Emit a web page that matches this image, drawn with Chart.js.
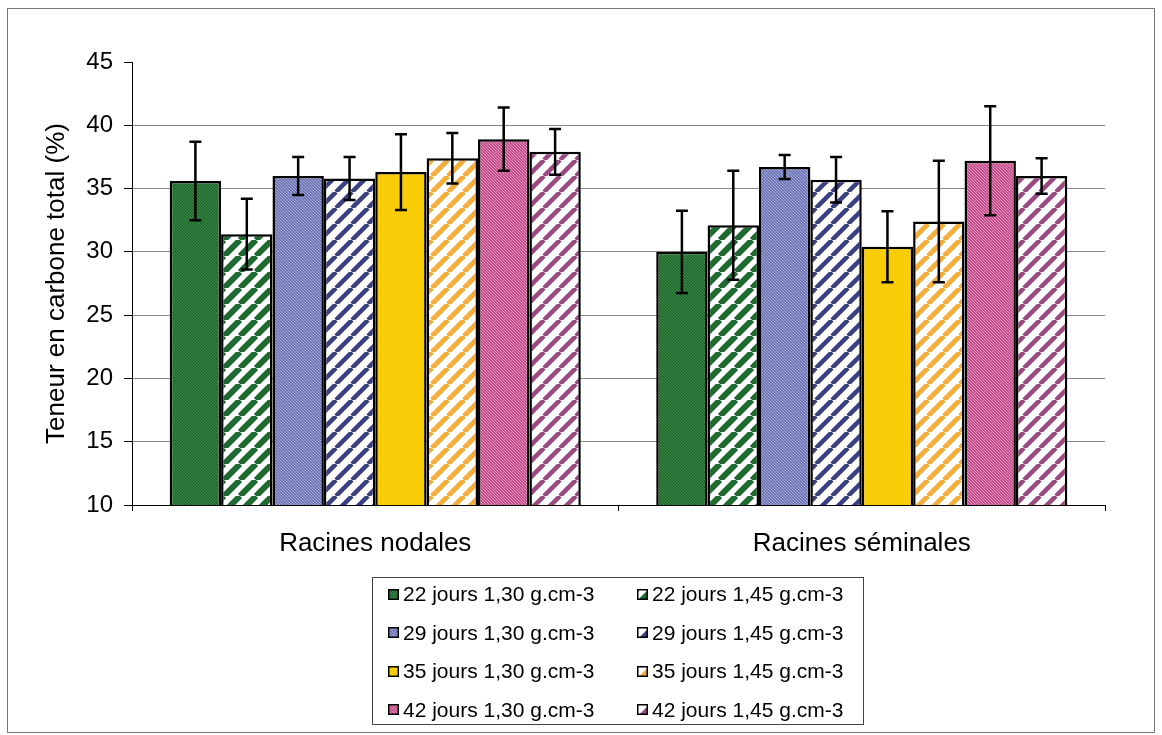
<!DOCTYPE html>
<html lang="fr">

<head>
    <meta charset="UTF-8">
    <title>Teneur en carbone total</title>
    <script src="https://cdn.jsdelivr.net/npm/chart.js"></script>
    <style>
        body { margin: 0; background: #fff; font-family: 'Liberation Sans', Arial, sans-serif; }
        #cadre { position: relative; width: 1162px; height: 735px; }
        #bord { position: absolute; left: 7px; top: 8px; width: 1148px; height: 725px; border: 1px solid #777; box-sizing: border-box; }
        #legende { position: absolute; left: 372px; top: 577px; width: 492px; height: 148px; border: 1px solid #444; box-sizing: border-box; background: #fff; }
        .item { position: absolute; height: 38px; display: flex; align-items: center; font-size: 21px; color: #000; white-space: nowrap; }
        .item canvas { margin-right: 4px; }
    </style>
</head>

<body>
    <div id="cadre">
        <div id="bord"></div>
        <canvas id="graficoBarras"></canvas>
        <div id="legende"></div>
    </div>
</body>

</html>
<script>
    // données
    const categories = ['Racines nodales', 'Racines séminales']
    const series = [
        '22 jours 1,30 g.cm-3', '22 jours 1,45 g.cm-3',
        '29 jours 1,30 g.cm-3', '29 jours 1,45 g.cm-3',
        '35 jours 1,30 g.cm-3', '35 jours 1,45 g.cm-3',
        '42 jours 1,30 g.cm-3', '42 jours 1,45 g.cm-3'
    ]
    const j22_130 = [35.6, 30.0]
    const j22_145 = [31.4, 32.1]
    const j29_130 = [36.0, 36.7]
    const j29_145 = [35.8, 35.7]
    const j35_130 = [36.3, 30.4]
    const j35_145 = [37.4, 32.4]
    const j42_130 = [38.9, 37.2]
    const j42_145 = [37.9, 36.0]
    // écarts-types
    const e22_130 = [3.1, 3.25]
    const e22_145 = [2.8, 4.3]
    const e29_130 = [1.5, 0.95]
    const e29_145 = [1.7, 1.8]
    const e35_130 = [3.0, 2.8]
    const e35_145 = [2.0, 4.8]
    const e42_130 = [2.5, 4.3]
    const e42_145 = [1.8, 1.4]
    const yTicks = [10, 15, 20, 25, 30, 35, 40, 45]

    const valeurs = [j22_130, j22_145, j29_130, j29_145, j35_130, j35_145, j42_130, j42_145]
    const ecarts = [e22_130, e22_145, e29_130, e29_145, e35_130, e35_145, e42_130, e42_145]

    // motifs
    function texture(fond, trait, pas) {
        const c = document.createElement('canvas')
        c.width = pas; c.height = pas
        const x = c.getContext('2d')
        x.fillStyle = fond
        x.fillRect(0, 0, pas, pas)
        x.strokeStyle = trait
        x.lineWidth = 1
        x.beginPath()
        for (let k = -1; k <= 1; k++) {
            x.moveTo(k * pas, 0)
            x.lineTo(k * pas + pas, pas)
        }
        x.stroke()
        return x.createPattern(c, 'repeat')
    }
    function rayures(couleur, pas, epaisseur) {
        const c = document.createElement('canvas')
        c.width = pas; c.height = pas
        const x = c.getContext('2d')
        x.fillStyle = '#fff'
        x.fillRect(0, 0, pas, pas)
        x.strokeStyle = couleur
        x.lineWidth = epaisseur
        x.beginPath()
        for (let k = -1; k <= 1; k++) {
            x.moveTo(k * pas, pas)
            x.lineTo(k * pas + pas, 0)
        }
        x.stroke()
        return x.createPattern(c, 'repeat')
    }
    const motifs = [
        texture('#1f6a2c', '#3f8c4c', 3),
        rayures('#1f6a30', 16, 6),
        texture('#6e76b6', '#a4aad8', 3),
        rayures('#3a4080', 16, 4.5),
        '#f8cd08',
        rayures('#f3ad3c', 16, 5),
        texture('#c24f8c', '#e693bd', 3),
        rayures('#9a4a80', 16, 4.5)
    ]

    const barresErreur = {
        id: 'barresErreur',
        afterDatasetsDraw(chart) {
            const ctx = chart.ctx
            const y = chart.scales.y
            ctx.save()
            ctx.strokeStyle = '#000'
            ctx.lineWidth = 2.5
            chart.data.datasets.forEach((ds, i) => {
                chart.getDatasetMeta(i).data.forEach((bar, j) => {
                    const v = ds.data[j], e = ecarts[i][j]
                    const haut = y.getPixelForValue(v + e)
                    const bas = y.getPixelForValue(v - e)
                    ctx.beginPath()
                    ctx.moveTo(bar.x, haut); ctx.lineTo(bar.x, bas)
                    ctx.moveTo(bar.x - 6, haut); ctx.lineTo(bar.x + 6, haut)
                    ctx.moveTo(bar.x - 6, bas); ctx.lineTo(bar.x + 6, bas)
                    ctx.stroke()
                })
            })
            ctx.restore()
        }
    }

    Chart.defaults.font.family = "'Liberation Sans', Arial, sans-serif"
    Chart.defaults.color = '#000'

    new Chart(
        graficoBarras,
        {
            type: 'bar',
            data: {
                labels: categories,
                datasets: series.map((nom, i) => ({
                    label: nom,
                    data: valeurs[i],
                    backgroundColor: motifs[i],
                    borderColor: '#000',
                    borderWidth: 2.5,
                    borderSkipped: false,
                    barPercentage: 1,
                    categoryPercentage: 0.845
                }))
            },
            options: {
                responsive: true,
                maintainAspectRatio: false,
                animation: false,
                layout: { padding: { top: 62, right: 57, bottom: 170, left: 0 } },
                plugins: { legend: { display: false }, tooltip: { enabled: false } },
                scales: {
                    x: {
                        afterFit: s => { s.height = 60 },
                        grid: { offset: true, drawOnChartArea: false, color: '#000', tickLength: 6 },
                        border: { color: '#000', width: 1 },
                        ticks: { font: { size: 26 }, padding: 17 }
                    },
                    y: {
                        min: 10,
                        max: 45,
                        afterFit: s => { s.width = 132 },
                        afterBuildTicks: s => { s.ticks = yTicks.map(v => ({ value: v })) },
                        grid: {
                            color: c => c.tick && c.tick.value === 45 ? 'rgba(0,0,0,0)' : '#8a8a8a',
                            tickColor: '#000',
                            tickLength: 8
                        },
                        border: { color: '#000', width: 1 },
                        ticks: { font: { size: 24 }, padding: 11 },
                        title: {
                            display: true,
                            text: 'Teneur en carbone total (%)',
                            font: { size: 26 },
                            padding: { top: 41, bottom: 0 }
                        }
                    }
                }
            },
            plugins: [barresErreur]
        }
    )

    // légende sur deux colonnes
    const legende = document.getElementById('legende')
    series.forEach((nom, i) => {
        const item = document.createElement('div')
        item.className = 'item'
        item.style.left = (i % 2 === 0 ? 15 : 264) + 'px'
        item.style.top = (-3 + Math.floor(i / 2) * 38.5) + 'px'
        const carre = document.createElement('canvas')
        carre.width = 11; carre.height = 11
        const cx = carre.getContext('2d')
        cx.fillStyle = motifs[i]
        cx.fillRect(0, 0, 11, 11)
        cx.strokeStyle = '#000'
        cx.lineWidth = 1.5
        cx.strokeRect(0.75, 0.75, 9.5, 9.5)
        item.appendChild(carre)
        const texte = document.createElement('span')
        texte.textContent = nom
        item.appendChild(texte)
        legende.appendChild(item)
    })
</script>
